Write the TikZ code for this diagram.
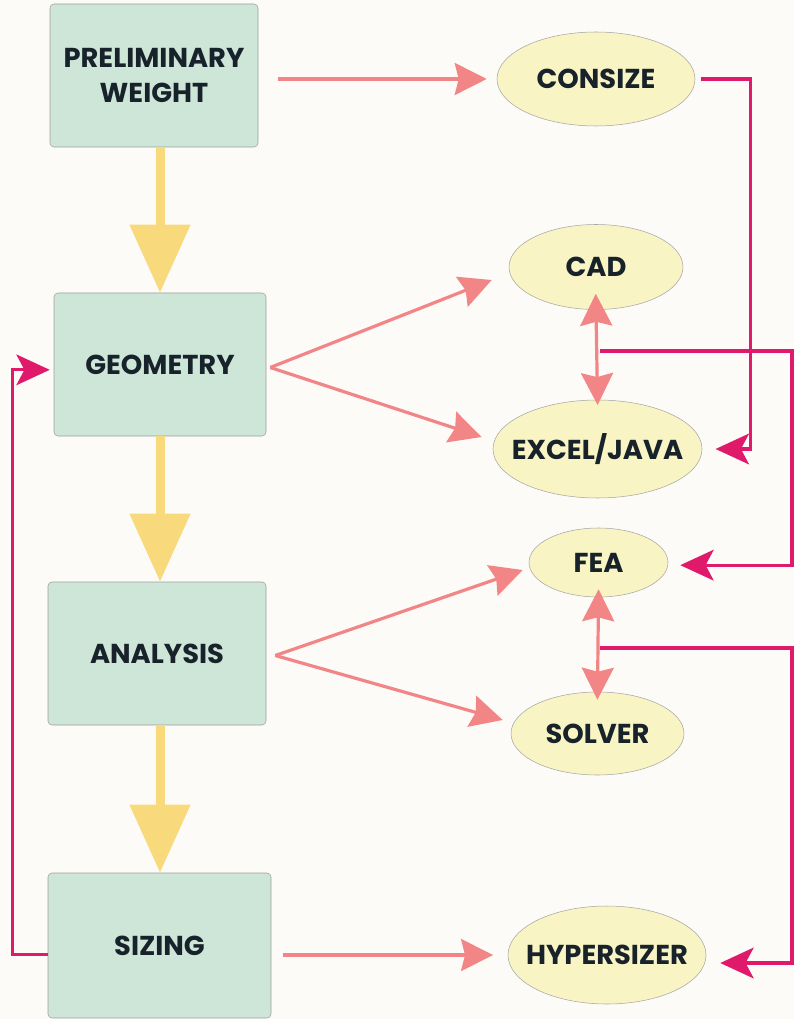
\documentclass[tikz,border=0pt]{standalone}
\usepackage{fontspec}
\setmainfont{Poppins}
\usetikzlibrary{shapes.geometric,arrows.meta}

\definecolor{fond}{HTML}{FDFBF8}
\definecolor{boite}{HTML}{CDE6D8}
\definecolor{bulle}{HTML}{F8F4C4}
\definecolor{jaune}{HTML}{F8DA7C}
\definecolor{rose}{HTML}{F28686}
\definecolor{magenta}{HTML}{E01A6A}
\definecolor{encre}{HTML}{18222A}

\begin{document}
\begin{tikzpicture}[x=0.75pt, y=-0.75pt,
  etape/.style={rectangle, rounded corners=3pt, draw=gray!75, thin, fill=boite,
    text=encre, font=\fontsize{20.5}{26}\selectfont\bfseries, align=center},
  outil/.style={ellipse, draw=gray!70, thin, fill=bulle, inner sep=0pt,
    text=encre, font=\fontsize{20.5}{24}\selectfont\bfseries},
  flux/.style={-{Triangle[length=51pt, width=44pt]}, jaune, line width=6.75pt},
  tete/.tip={Stealth[length=24pt, width=24pt, inset=3pt]},
  lien/.style={-tete, rose, line width=2.4pt},
  retour/.style={-{Stealth[length=25pt, width=23pt, inset=6pt]}, magenta, line width=2.4pt}]

% Le fond
\fill[fond] (0,0) rectangle (794,1019);

% Les étapes (colonne de gauche)
\node[etape, minimum width=156pt, minimum height=107.25pt] (pw) at (154,75.5) {PRELIMINARY\\WEIGHT};
\node[etape, minimum width=159pt, minimum height=107.25pt] (geom) at (160,364.5) {GEOMETRY};
\node[etape, minimum width=163.5pt, minimum height=107.25pt] (anal) at (157,653.5) {ANALYSIS};
\node[etape, minimum width=167.25pt, minimum height=108.75pt] (siz) at (159.5,945.5) {SIZING};

% Les outils (colonne de droite)
\node[outil, minimum width=148.5pt, minimum height=70.5pt] (cons) at (596,79) {\makebox[0pt]{CONSIZE}};
\node[outil, minimum width=130.5pt, minimum height=63.75pt] (cad) at (596,267) {\makebox[0pt]{CAD}};
\node[outil, minimum width=156.75pt, minimum height=73.5pt] (excel) at (597.5,449) {\makebox[0pt]{EXCEL/JAVA}};
\node[outil, minimum width=104.25pt, minimum height=51.75pt] (fea) at (598.5,562.5) {\makebox[0pt]{FEA}};
\node[outil, minimum width=129.75pt, minimum height=62.25pt] (solver) at (597.5,733.5) {\makebox[0pt]{SOLVER}};
\node[outil, minimum width=148.5pt, minimum height=73.5pt] (hyper) at (607,955) {\makebox[0pt]{HYPERSIZER}};

% Points de départ et rail de droite
\coordinate (gfork) at ([shift={(4,3)}]geom.east);
\coordinate (afork) at ([shift={(9,2)}]anal.east);
\coordinate (ce) at (600,351);
\coordinate (fs) at (600,648);
\coordinate (rail) at (792,0);

% Les flèches jaunes entre étapes
\foreach \a/\b in {pw/geom, geom/anal, anal/siz}
\draw[flux] (\a.south -| geom.center) -- (\b.north -| geom.center);

% Les flèches vers les outils
\draw[lien, shorten <=15pt, shorten >=7.5pt] (pw.east |- cons.west) -- (cons.west);
\draw[lien] (gfork) -- ([shift={(-17,13)}]cad.west);
\draw[lien] (gfork) -- ([shift={(-11,-12)}]excel.west);
\draw[lien] (afork) -- ([shift={(-6,7.5)}]fea.west);
\draw[lien] (afork) -- ([shift={(-8,-13.5)}]solver.west);
\draw[lien, shorten <=9pt, shorten >=11pt] (siz.east |- hyper.west) -- (hyper.west);

% Les échanges entre outils
\draw[lien, tete-tete, shorten <=-12pt, shorten >=-4pt] (cad.south) -- (excel.north);
\draw[lien, tete-tete, shorten <=-6pt, shorten >=-6pt] (fea.south) -- (solver.north);

% Les retours
\draw[retour, shorten <=4pt, shorten >=10pt] (cons.east) -- ++(55,0) |- (excel.east);
\draw[retour, shorten >=9pt] (ce) -- (ce -| rail) |- ([yshift=-2pt]fea.east);
\draw[retour, shorten >=10.5pt] (fs) -- (fs -| rail) |- ([yshift=-6pt]hyper.east);
\draw[retour, shorten >=3pt] ([yshift=-7pt]siz.west) -- ++(-35,0) |- ([yshift=-4pt]geom.west);

\end{tikzpicture}
\end{document}
